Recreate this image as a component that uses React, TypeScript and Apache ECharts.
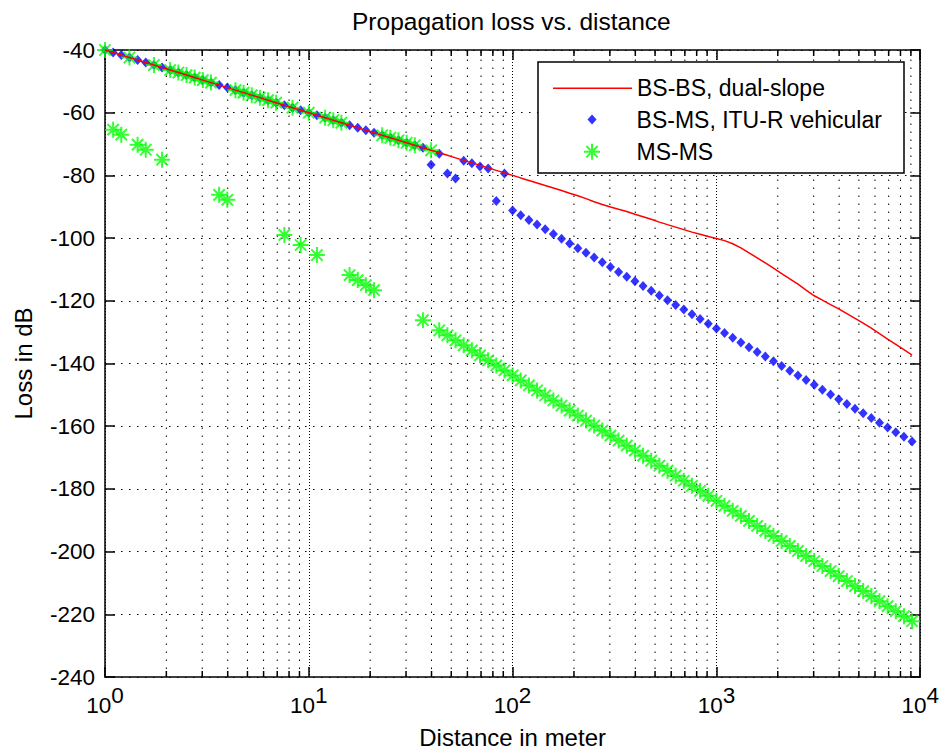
import React, { useEffect, useRef } from "react";
import * as echarts from "echarts";

const FONT = 'Arial, "Liberation Sans", Helvetica, sans-serif';

const titleText = "Propagation loss vs. distance";
const xAxisName = "Distance in meter";
const yAxisName = "Loss in dB";
const seriesNames = ["BS-BS, dual-slope", "BS-MS, ITU-R vehicular", "MS-MS"];

const yMin = -240;
const yMax = -40;
const yStep = 20;
const xMin = 1;
const xMax = 10000;

// distance in meter (log-spaced samples)
const distances = [
  1, 1.096, 1.202, 1.318, 1.445, 1.585, 1.738, 1.905, 2.089, 2.291,
  2.512, 2.754, 3.02, 3.311, 3.631, 3.981, 4.365, 4.786, 5.248, 5.754,
  6.31, 6.918, 7.586, 8.318, 9.12, 10.0, 10.96, 12.02, 13.18, 14.45,
  15.85, 17.38, 19.05, 20.89, 22.91, 25.12, 27.54, 30.2, 33.11, 36.31,
  39.81, 43.65, 47.86, 52.48, 57.54, 63.1, 69.18, 75.86, 83.18, 91.2,
  100.0, 109.6, 120.2, 131.8, 144.5, 158.5, 173.8, 190.5, 208.9, 229.1,
  251.2, 275.4, 302.0, 331.1, 363.1, 398.1, 436.5, 478.6, 524.8, 575.4,
  631.0, 691.8, 758.6, 831.8, 912.0, 1000, 1096, 1202, 1318, 1445,
  1585, 1738, 1905, 2089, 2291, 2512, 2754, 3020, 3311, 3631,
  3981, 4365, 4786, 5248, 5754, 6310, 6918, 7586, 8318, 9120,
];

const bsBsLoss = [
  -40, -40.8, -41.6, -42.4, -43.2, -44, -44.8, -45.6, -46.4, -47.2,
  -48, -48.8, -49.6, -50.4, -51.2, -52, -52.8, -53.6, -54.4, -55.2,
  -56, -56.8, -57.6, -58.4, -59.2, -60, -60.8, -61.6, -62.4, -63.2,
  -64, -64.8, -65.6, -66.4, -67.2, -68, -68.8, -69.6, -70.4, -71.2,
  -72, -72.8, -73.6, -74.4, -75.2, -76, -76.8, -77.6, -78.4, -79.2,
  -80, -80.8, -81.6, -82.4, -83.2, -84, -84.8, -85.7, -86.5, -87.4,
  -88.4, -89.3, -90.1, -90.8, -91.5, -92.4, -93.2, -94.0, -94.9, -95.7,
  -96.5, -97.3, -98.1, -98.8, -99.5, -100.1, -100.8, -101.8, -103.1, -104.7,
  -106.3, -107.9, -109.6, -111.3, -113.0, -114.7, -116.6, -118.4, -119.8, -121.2,
  -122.6, -124.1, -125.6, -127.1, -128.7, -130.5, -132.2, -133.9, -135.6, -137.3,
];

const bsMsLoss = [
  -40, -40.8, -41.6, -42.4, -43.2, -44, -44.8, -45.6, -46.4, -47.2,
  -48, -48.8, -49.6, -50.4, -51.2, -52, -52.8, -53.6, -54.4, -55.2,
  -56, -56.8, -57.6, -58.4, -59.2, -60, -60.8, -61.6, -62.4, -63.2,
  -64, -64.8, -65.6, -66.4, -67.2, -68, -68.8, -69.6, -70.4, -71.2,
  -76.6, -73.1, -79.4, -81.0, -75.3, -76.1, -77.2, -77.8, -88.2, -79.4,
  -91.2, -92.7, -94.2, -95.7, -97.2, -98.7, -100.2, -101.7, -103.2, -104.7,
  -106.2, -107.7, -109.2, -110.8, -112.3, -113.8, -115.3, -116.8, -118.3, -119.8,
  -121.3, -122.8, -124.3, -125.8, -127.3, -128.8, -130.3, -131.8, -133.3, -134.8,
  -136.3, -137.8, -139.3, -140.8, -142.3, -143.8, -145.3, -146.8, -148.4, -149.9,
  -151.4, -152.9, -154.4, -155.9, -157.4, -158.9, -160.4, -161.9, -163.4, -164.9,
];

const msMsLoss = [
  -40, -65.4, -67.0, -42.4, -70.2, -71.8, -44.8, -75.0, -46.4, -47.2,
  -48, -48.8, -49.6, -50.4, -86.2, -87.8, -52.8, -53.6, -54.4, -55.2,
  -56, -56.8, -99.0, -58.4, -102.2, -60, -105.4, -61.6, -62.4, -63.2,
  -111.8, -113.4, -115.0, -116.6, -67.2, -68, -68.8, -69.6, -70.4, -126.2,
  -72, -129.4, -131.0, -132.6, -134.2, -135.8, -137.4, -139.0, -140.6, -142.2,
  -143.8, -145.4, -147.0, -148.6, -150.2, -151.8, -153.4, -155.0, -156.6, -158.2,
  -159.8, -161.4, -163.0, -164.6, -166.2, -167.8, -169.4, -171.0, -172.6, -174.2,
  -175.8, -177.4, -179.0, -180.6, -182.2, -183.8, -185.4, -187.0, -188.6, -190.2,
  -191.8, -193.4, -195.0, -196.6, -198.2, -199.8, -201.4, -203.0, -204.6, -206.2,
  -207.8, -209.4, -211.0, -212.6, -214.2, -215.8, -217.4, -219.0, -220.6, -222.2,
];

// minor log-axis gridline values (2..9 per decade)
const minorXTicks = [
  2, 3, 4, 5, 6, 7, 8, 9,
  20, 30, 40, 50, 60, 70, 80, 90,
  200, 300, 400, 500, 600, 700, 800, 900,
  2000, 3000, 4000, 5000, 6000, 7000, 8000, 9000,
];

const DIAMOND = "path://M5 0 L10 5.5 L5 11 L0 5.5 Z";
const ASTERISK =
  "path://M8 0 L8 16 M0 8 L16 8 M2.34 2.34 L13.66 13.66 M2.34 13.66 L13.66 2.34";

export default function App() {
  const ref = useRef<HTMLDivElement>(null);

  useEffect(() => {
    document.body.style.margin = "0";
    const chart = echarts.init(ref.current!, null, { renderer: "svg" });

    const pairs = (vals: number[]) => distances.map((d, i) => [d, vals[i]]);

    const axisLineStyle = { color: "#000", width: 1.5 };
    const dotted = { color: "#000", width: 1, type: [1.5, 6.5] as any };

    const legendBase: any = {
      orient: "vertical",
      padding: 0,
      itemWidth: 79,
      itemGap: 0,
      selectedMode: false,
      textStyle: { fontSize: 23, color: "#000", lineHeight: 24, fontFamily: FONT },
    };

    const option: any = {
      animation: false,
      backgroundColor: "#fff",
      textStyle: { fontFamily: FONT },
      title: {
        text: titleText,
        left: 352,
        top: 9,
        padding: 0,
        textStyle: { fontSize: 24.5, fontWeight: "normal", color: "#000", fontFamily: FONT },
      },
      grid: { left: 105, top: 50, right: 19, bottom: 73, containLabel: false },
      xAxis: [
        {
          type: "log",
          logBase: 10,
          min: xMin,
          max: xMax,
          position: "bottom",
          name: xAxisName,
          nameLocation: "middle",
          nameGap: 48,
          nameTextStyle: { fontSize: 24, color: "#000", fontFamily: FONT },
          axisLine: { lineStyle: axisLineStyle },
          axisTick: { inside: true, length: 10, lineStyle: { color: "#000", width: 1.5 } },
          axisLabel: {
            margin: 7,
            color: "#000",
            showMinLabel: true,
            showMaxLabel: true,
            formatter: (v: number) => `{b|10}{s|${Math.round(Math.log10(v))}}`,
            rich: {
              b: { fontSize: 22.5, color: "#000", fontFamily: FONT },
              s: { fontSize: 22.5, color: "#000", fontFamily: FONT, padding: [0, 0, 19, 0] },
            },
          },
          splitLine: { show: true, lineStyle: { color: "#000", width: 1, type: [1, 2] } },
        },
        {
          type: "log",
          logBase: 10,
          min: xMin,
          max: xMax,
          position: "top",
          axisLine: { lineStyle: axisLineStyle },
          axisTick: { inside: true, length: 10, lineStyle: { color: "#000", width: 1.5 } },
          axisLabel: { show: false },
          splitLine: { show: false },
        },
      ],
      yAxis: [
        {
          type: "value",
          min: yMin,
          max: yMax,
          interval: yStep,
          position: "left",
          name: yAxisName,
          nameLocation: "middle",
          nameGap: 70,
          nameTextStyle: { fontSize: 24, color: "#000", fontFamily: FONT },
          axisLine: { lineStyle: axisLineStyle },
          axisTick: { inside: true, length: 10, lineStyle: { color: "#000", width: 1.5 } },
          axisLabel: { margin: 10, color: "#000", fontSize: 22.5, fontFamily: FONT },
          splitLine: { show: true, lineStyle: dotted },
        },
        {
          type: "value",
          min: yMin,
          max: yMax,
          interval: yStep,
          position: "right",
          axisLine: { lineStyle: axisLineStyle },
          axisTick: { inside: true, length: 10, lineStyle: { color: "#000", width: 1.5 } },
          axisLabel: { show: false },
          splitLine: { show: false },
        },
      ],
      legend: [
        {
          ...legendBase,
          left: 553,
          top: 76.3,
          itemHeight: 1.5,
          data: [{ name: seriesNames[0], icon: "rect" }],
          itemStyle: { color: "#ff0000", borderWidth: 0 },
        },
        {
          ...legendBase,
          left: 587.5,
          top: 107.5,
          itemHeight: 10,
          data: [{ name: seriesNames[1] }],
          itemStyle: { color: "#0000ff", borderWidth: 0 },
        },
        {
          ...legendBase,
          left: 583,
          top: 139.7,
          itemHeight: 16,
          data: [{ name: seriesNames[2] }],
          itemStyle: { color: "rgba(0,0,0,0)", borderColor: "#00ff00", borderWidth: 2 },
        },
      ],
      graphic: [
        {
          type: "rect",
          z: 3,
          shape: { x: 538, y: 62, width: 366, height: 111 },
          style: { fill: "#fff", stroke: "#000", lineWidth: 1.5 },
        },
      ],
      series: [
        {
          name: "minor grid",
          type: "custom",
          silent: true,
          z: 1,
          xAxisIndex: 0,
          yAxisIndex: 0,
          data: minorXTicks.map((v) => [v, yMin]),
          encode: { x: 0, y: 1 },
          renderItem: (_params: any, api: any) => {
            const v = api.value(0);
            const b = api.coord([v, yMin]);
            const t = api.coord([v, yMax]);
            return {
              type: "group",
              children: [
                {
                  type: "line",
                  shape: { x1: b[0], y1: b[1], x2: t[0], y2: t[1] },
                  style: { stroke: "#000", lineWidth: 1, lineDash: [1.5, 6.5] },
                },
                {
                  type: "line",
                  shape: { x1: b[0], y1: b[1], x2: b[0], y2: b[1] - 6 },
                  style: { stroke: "#000", lineWidth: 1.5 },
                },
                {
                  type: "line",
                  shape: { x1: t[0], y1: t[1], x2: t[0], y2: t[1] + 6 },
                  style: { stroke: "#000", lineWidth: 1.5 },
                },
              ],
            };
          },
        },
        {
          name: seriesNames[0],
          type: "line",
          color: "#ff0000",
          data: pairs(bsBsLoss),
          symbol: "none",
          lineStyle: { color: "#ff0000", width: 1.5 },
          silent: true,
        },
        {
          name: seriesNames[1],
          type: "scatter",
          data: pairs(bsMsLoss),
          symbol: DIAMOND,
          symbolSize: [9, 10],
          itemStyle: { color: "#0000ff" },
          silent: true,
        },
        {
          name: seriesNames[2],
          type: "scatter",
          data: pairs(msMsLoss),
          symbol: ASTERISK,
          symbolSize: 16,
          itemStyle: { color: "rgba(0,0,0,0)", borderColor: "#00ff00", borderWidth: 2 },
          silent: true,
        },
      ],
    };

    chart.setOption(option);
    return () => chart.dispose();
  }, []);

  return <div ref={ref} style={{ width: 942, height: 754 }} />;
}
